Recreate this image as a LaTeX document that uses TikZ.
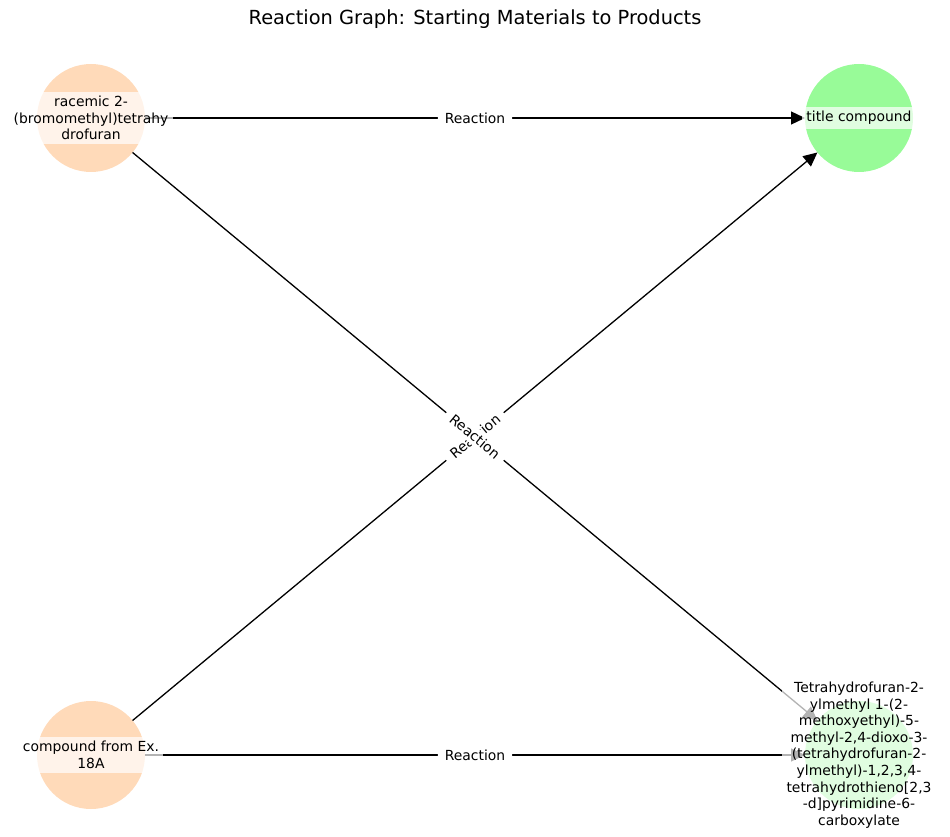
\documentclass[tikz,border=0pt]{standalone}
\usepackage{fontspec}
\setmainfont{DejaVu Sans}
\usetikzlibrary{arrows.meta}
\definecolor{peach}{HTML}{FFDAB9}
\definecolor{palegreen}{HTML}{98FB98}
\tikzset{
  mol/.style={circle, minimum size=108pt, inner sep=0pt, outer sep=0pt, draw=none},
  start/.style={mol, fill=peach},
  prod/.style={mol, fill=palegreen},
  lbl/.style={fill=white, fill opacity=0.7, text opacity=1, inner sep=4.2pt, align=center,
    font=\fontsize{13.9}{16.6}\selectfont},
  edge/.style={line width=1.3pt, black, -{Triangle[length=14pt,width=13pt]}},
  elabel/.style={fill=white, inner xsep=7pt, inner ysep=3pt, rounded corners=3pt,
    font=\fontsize{13.9}{16.6}\selectfont},
}
\begin{document}
\begin{tikzpicture}[x=1pt,y=-1pt]
\useasboundingbox (0,0) rectangle (950,837);
\node[font=\fontsize{19.4}{23}\selectfont] (title) at (475,19) {Reaction Graph: Starting Materials to Products};
% circles
\node[start] (nA) at (91,118) {};
\node[prod] (nT) at (859,118) {};
\node[start] (nC) at (91,755) {};
\node[prod] (nP) at (859,755) {};
% edges
\draw[edge] (nA) -- (nT);
\draw[edge] (nA) -- (nP);
\draw[edge] (nC) -- (nT);
\draw[edge] (nC) -- (nP);
% edge labels
\path (nA) -- (nT) node[midway, elabel] (e1) {Reaction};
\path (nC) -- (nP) node[midway, elabel] (e4) {Reaction};
\path (nC) -- (nT) node[midway, sloped, elabel] (e3) {Reaction};
\path (nA) -- (nP) node[midway, sloped, elabel] (e2) {Reaction};
% node labels
\node[lbl] (lA) at (nA) {racemic 2-\\(bromomethyl)tetrahy\\drofuran};
\node[lbl] (lT) at (nT) {title compound};
\node[lbl] (lC) at (nC) {compound from Ex.\\18A};
\node[lbl] (lP) at (nP) {Tetrahydrofuran-2-\\ylmethyl 1-(2-\\methoxyethyl)-5-\\methyl-2,4-dioxo-3-\\(tetrahydrofuran-2-\\ylmethyl)-1,2,3,4-\\tetrahydrothieno[2,3\\-d]pyrimidine-6-\\carboxylate};
\end{tikzpicture}
\end{document}
